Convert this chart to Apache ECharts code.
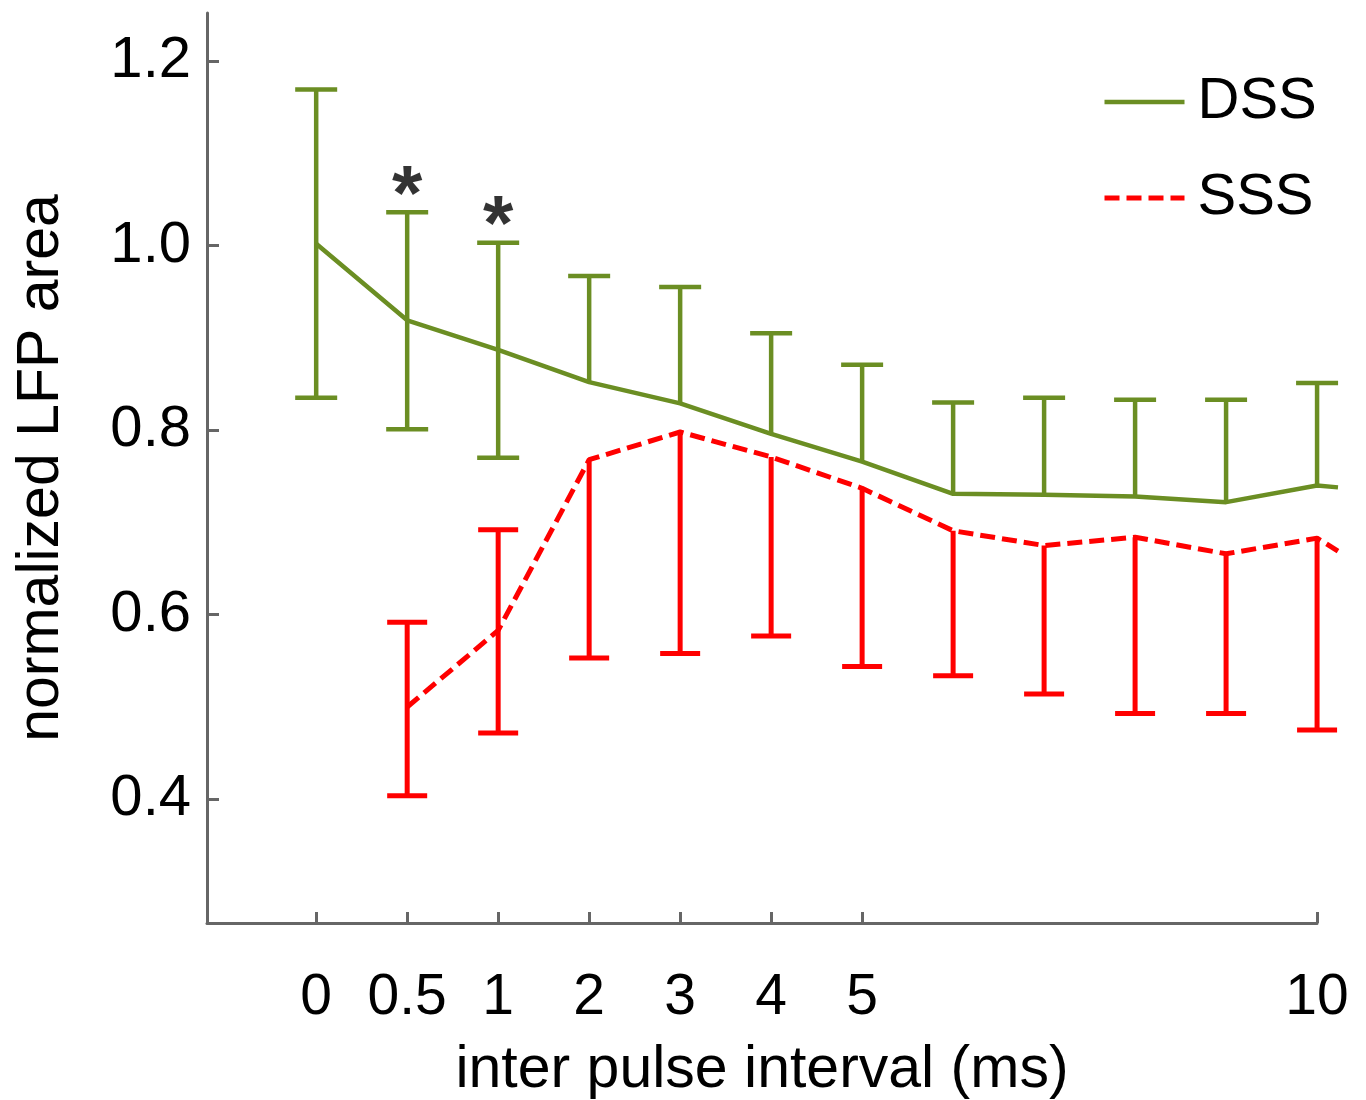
<!DOCTYPE html>
<html>
<head>
<meta charset="utf-8">
<script src="https://cdn.jsdelivr.net/npm/echarts@6/dist/echarts.min.js"></script>
<style>
html,body{margin:0;padding:0;background:#fff;}
#chart{width:1366px;height:1100px;}
</style>
</head>
<body>
<div id="chart"></div>
<script>
// ---- data ----
const categories = ['0','0.5','1','2','3','4','5','6','7','8','9','10'];
const xTickLabels = ['0','0.5','1','2','3','4','5','10'];
const yTickValues = [0.4, 0.6, 0.8, 1.0, 1.2];

const dssMean  = [1.002, 0.919, 0.887, 0.852, 0.829, 0.796, 0.766, 0.731, 0.730, 0.728, 0.722, 0.740];
const dssUpper = [1.169, 1.036, 1.003, 0.967, 0.955, 0.905, 0.871, 0.830, 0.835, 0.833, 0.833, 0.851];
const dssLower = [0.835, 0.801, 0.770, null, null, null, null, null, null, null, null, null];

const sssMean  = [null, 0.500, 0.583, 0.768, 0.798, 0.771, 0.737, 0.691, 0.675, 0.684, 0.666, 0.683];
const sssUpper = [null, 0.592, 0.692, null, null, null, null, null, null, null, null, null];
const sssLower = [null, 0.404, 0.472, 0.553, 0.558, 0.577, 0.544, 0.534, 0.514, 0.493, 0.493, 0.475];

// trailing segment beyond the last category (clipped in the original)
const tailPos = 11.23;
const dssTail = 0.738;
const sssTail = 0.669;

const sigCategories = ['0.5', '1'];

// ---- build ----
const GREEN = '#6b8e23';
const RED = '#ff0000';
const FONT = '"Liberation Sans", Arial, sans-serif';
const X_MIN = -1.2, X_MAX = 11, Y_MIN = 0.266, Y_MAX = 1.252;

function lineData(mean, tail) {
  const d = mean.map((v, i) => v == null ? null : [i, v]).filter(p => p);
  d.push([tailPos, tail]);
  return d;
}
function errData(mean, lo, hi) {
  const out = [];
  mean.forEach((m, i) => {
    if (m == null) return;
    const l = lo[i], h = hi[i];
    out.push([i, l == null ? m : l, h == null ? m : h, l == null ? 0 : 1, h == null ? 0 : 1]);
  });
  return out;
}
function errRender(color, width, capHalf) {
  return function (params, api) {
    const x = api.value(0);
    const p1 = api.coord([x, api.value(1)]);
    const p2 = api.coord([x, api.value(2)]);
    const children = [{
      type: 'line',
      shape: { x1: p1[0], y1: p1[1], x2: p2[0], y2: p2[1] },
      style: { stroke: color, lineWidth: width }
    }];
    if (api.value(3)) children.push({
      type: 'line',
      shape: { x1: p1[0] - capHalf, y1: p1[1], x2: p1[0] + capHalf, y2: p1[1] },
      style: { stroke: color, lineWidth: width }
    });
    if (api.value(4)) children.push({
      type: 'line',
      shape: { x1: p2[0] - capHalf, y1: p2[1], x2: p2[0] + capHalf, y2: p2[1] },
      style: { stroke: color, lineWidth: width }
    });
    return { type: 'group', children };
  };
}

const starData = sigCategories.map(c => {
  const i = categories.indexOf(c);
  return [i, dssUpper[i]];
});

// second (plot) grid: same scale, extends a bit further right so the tail shows
const unitPx = 1110 / (X_MAX - X_MIN);
const plotRight = 49 - Math.round((tailPos - X_MAX) * unitPx);

const chart = echarts.init(document.getElementById('chart'));
chart.setOption({
  backgroundColor: '#ffffff',
  animation: false,
  grid: [
    { left: 207, right: 49, top: 13, bottom: 177, containLabel: false, outerBoundsMode: 'none' },
    { left: 207, right: plotRight, top: 13, bottom: 177, containLabel: false, outerBoundsMode: 'none' }
  ],
  legend: {
    orient: 'vertical',
    left: 1097,
    top: 68,
    itemWidth: 80,
    itemHeight: 20,
    itemGap: 38,
    itemStyle: { opacity: 0 },
    textStyle: { fontSize: 58, color: '#000', fontFamily: FONT, padding: [0, 0, 0, 8] },
    data: [
      { name: 'DSS', lineStyle: { width: 4.5 } },
      { name: 'SSS', lineStyle: { width: 5 } }
    ]
  },
  xAxis: [{
    type: 'value', gridIndex: 0,
    min: X_MIN, max: X_MAX,
    name: 'inter pulse interval (ms)',
    nameLocation: 'middle',
    nameGap: 118,
    nameTextStyle: { fontSize: 59, color: '#000', fontFamily: FONT },
    axisLine: { show: true, onZero: false, lineStyle: { color: '#666', width: 3 } },
    axisTick: {
      show: true, inside: true, length: 11,
      lineStyle: { color: '#666', width: 3 },
      customValues: xTickLabels.map(l => categories.indexOf(l))
    },
    axisLabel: {
      show: true, fontSize: 57, color: '#000', fontFamily: FONT, margin: 47,
      customValues: xTickLabels.map(l => categories.indexOf(l)),
      formatter: v => categories[Math.round(v)]
    },
    splitLine: { show: false }
  }, {
    type: 'value', gridIndex: 1, min: X_MIN, max: tailPos, show: false,
    splitLine: { show: false }
  }],
  yAxis: [{
    type: 'value', gridIndex: 0,
    min: Y_MIN, max: Y_MAX,
    name: 'normalized LFP area',
    nameLocation: 'middle',
    nameGap: 136,
    nameTextStyle: { fontSize: 59, color: '#000', fontFamily: FONT },
    axisLine: { show: true, onZero: false, lineStyle: { color: '#666', width: 3 } },
    axisTick: {
      show: true, inside: true, length: 12,
      lineStyle: { color: '#666', width: 3 },
      customValues: yTickValues
    },
    axisLabel: {
      show: true, fontSize: 58, color: '#000', fontFamily: FONT, margin: 16,
      customValues: yTickValues,
      formatter: v => v.toFixed(1)
    },
    splitLine: { show: false }
  }, {
    type: 'value', gridIndex: 1, min: Y_MIN, max: Y_MAX, show: false,
    splitLine: { show: false }
  }],
  series: [
    {
      name: 'DSS-err', type: 'custom', xAxisIndex: 1, yAxisIndex: 1,
      renderItem: errRender(GREEN, 4.5, 21), clip: false,
      data: errData(dssMean, dssLower, dssUpper), z: 2, silent: true
    },
    {
      name: 'SSS-err', type: 'custom', xAxisIndex: 1, yAxisIndex: 1,
      renderItem: errRender(RED, 5, 20), clip: false,
      data: errData(sssMean, sssLower, sssUpper), z: 2, silent: true
    },
    {
      name: 'DSS', type: 'line', xAxisIndex: 1, yAxisIndex: 1,
      data: lineData(dssMean, dssTail),
      symbol: 'none', showSymbol: false, z: 3,
      lineStyle: { color: GREEN, width: 4.5 }, itemStyle: { color: GREEN }
    },
    {
      name: 'SSS', type: 'line', xAxisIndex: 1, yAxisIndex: 1,
      data: lineData(sssMean, sssTail),
      symbol: 'none', showSymbol: false, z: 3,
      lineStyle: { color: RED, width: 5, type: [15, 7] }, itemStyle: { color: RED }
    },
    {
      name: 'sig', type: 'scatter', xAxisIndex: 1, yAxisIndex: 1,
      data: starData, symbolSize: 1,
      itemStyle: { color: 'rgba(0,0,0,0)' }, z: 4, silent: true,
      label: {
        show: true, position: 'inside', formatter: '*', offset: [0, -14],
        fontSize: 78, fontWeight: 'bold', color: '#000', fontFamily: FONT
      }
    }
  ]
});
</script>
</body>
</html>
